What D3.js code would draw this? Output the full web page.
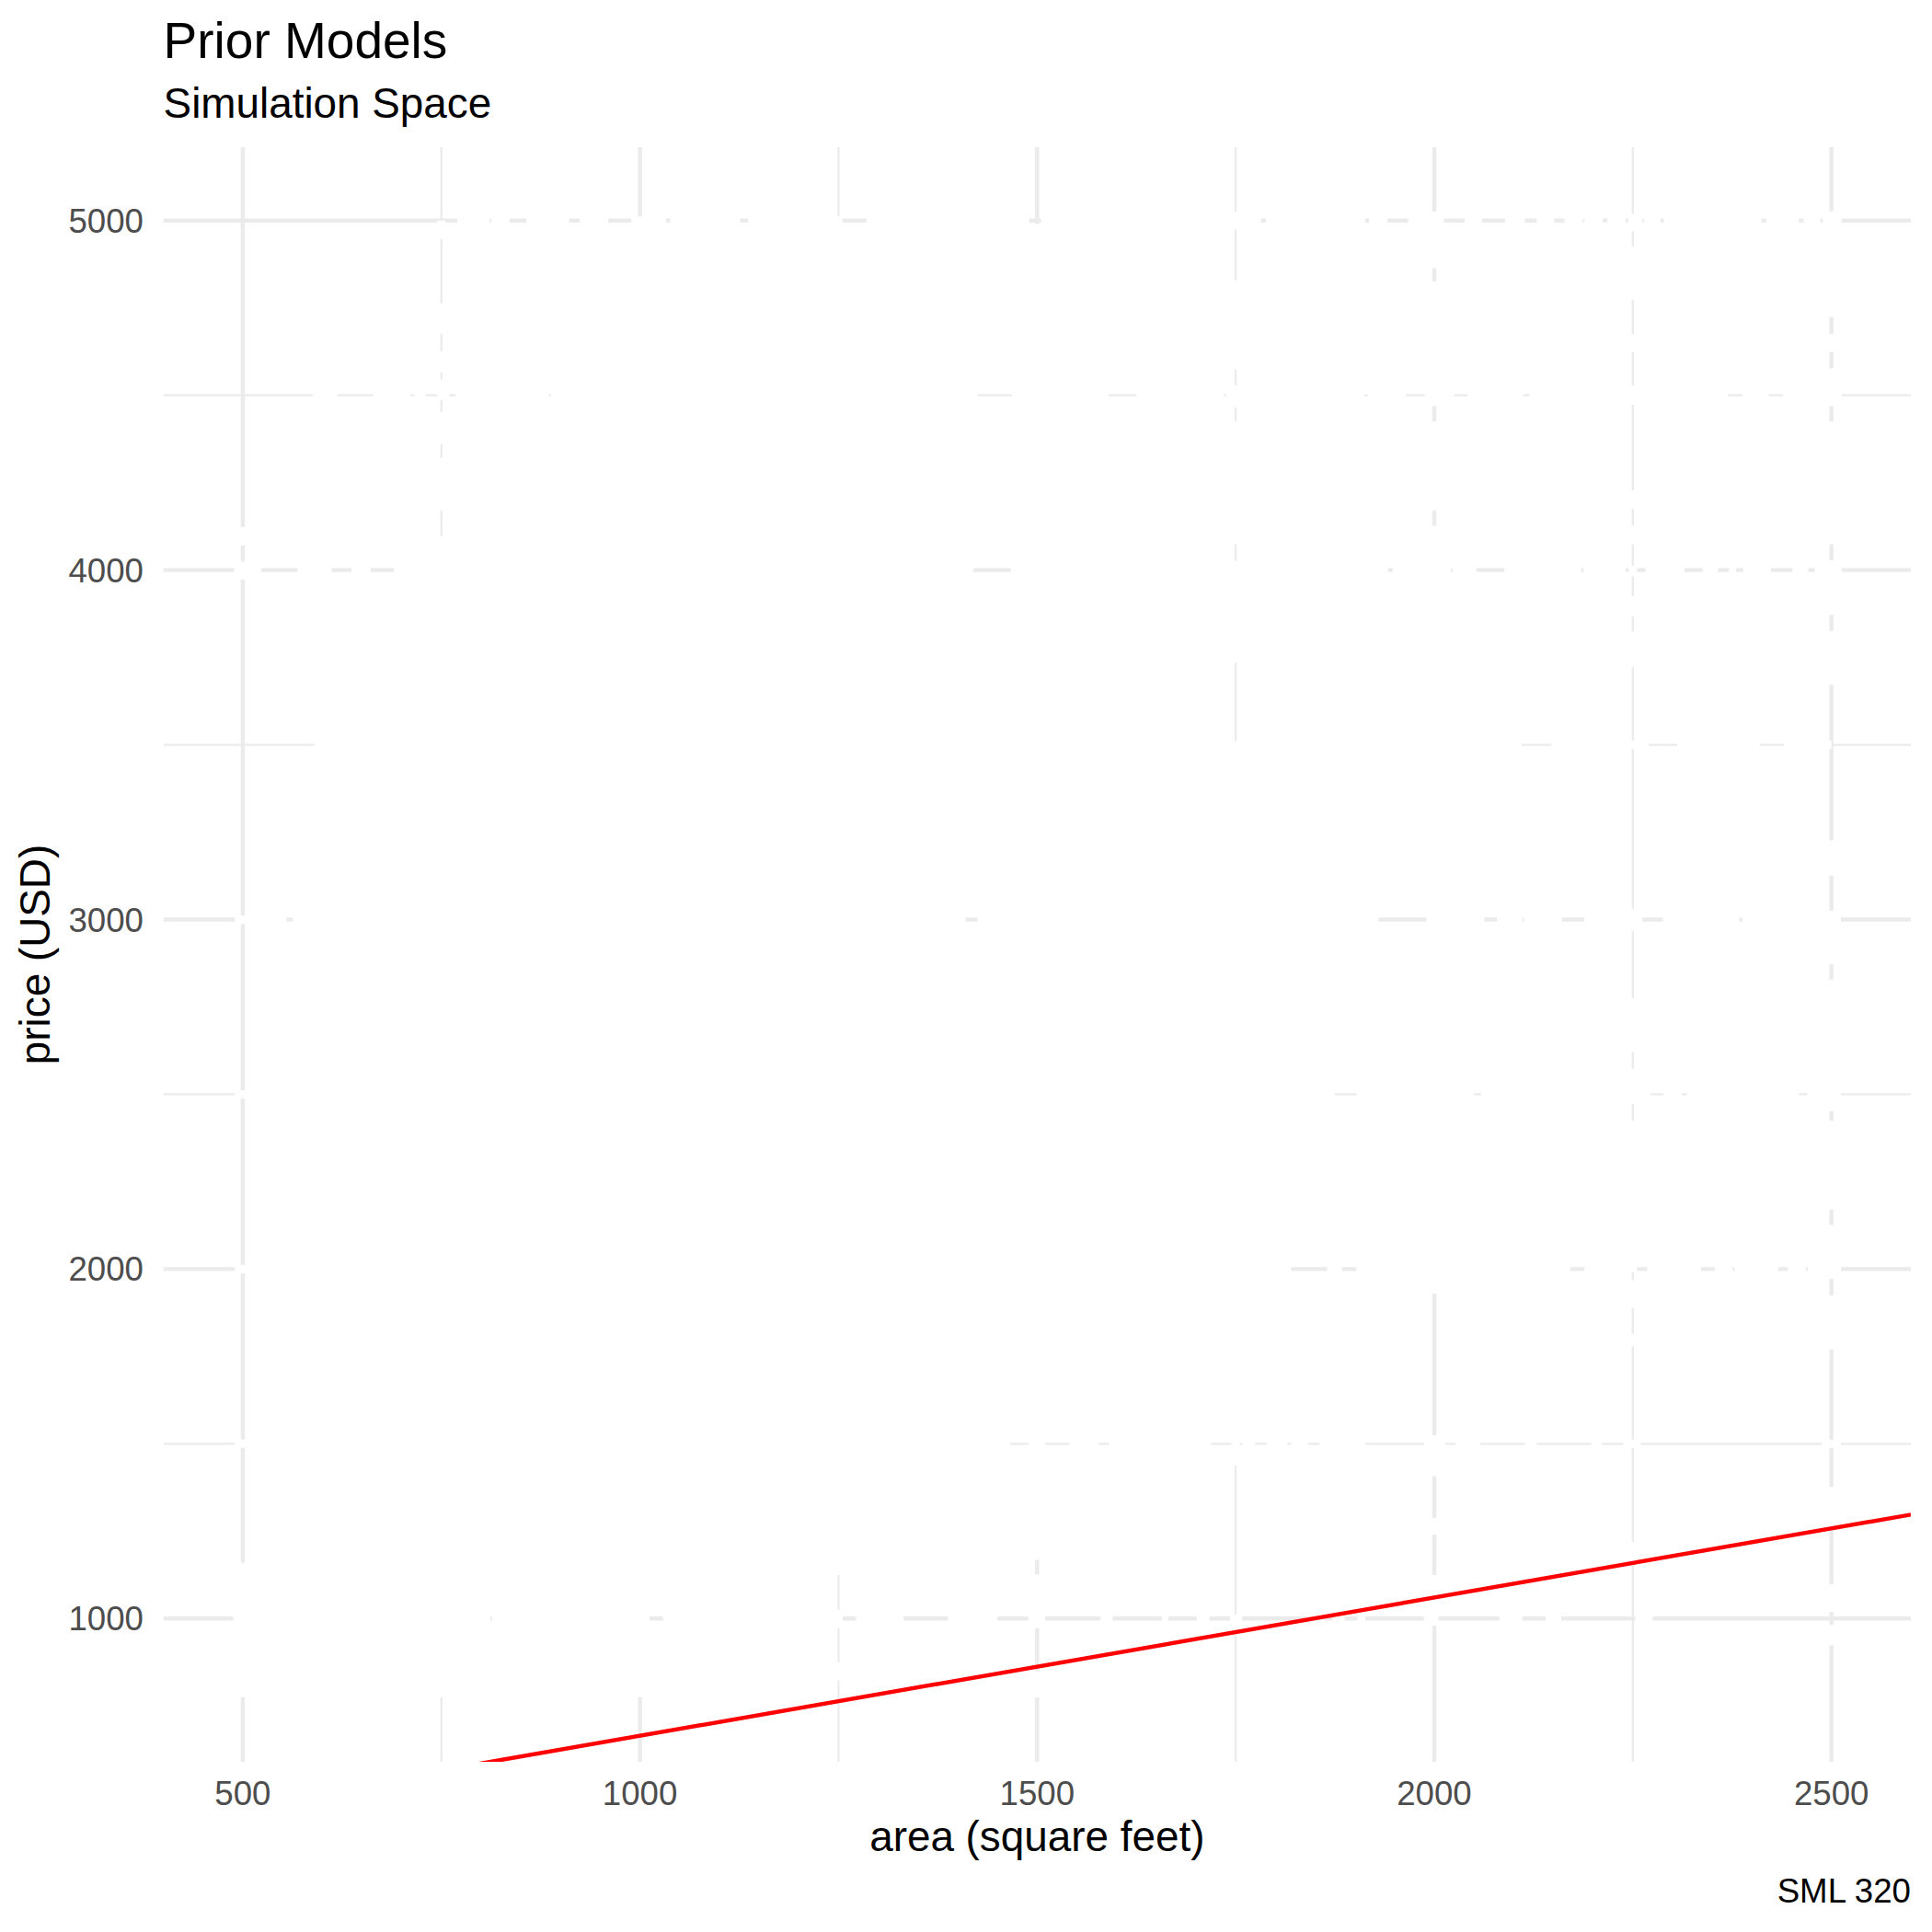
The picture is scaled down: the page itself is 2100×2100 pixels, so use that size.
<!DOCTYPE html>
<html><head><meta charset="utf-8">
<script src="https://cdn.jsdelivr.net/npm/d3@7"></script>
<style>html,body{margin:0;padding:0;background:#fff;}svg text{font-family:"Liberation Sans",Arial,sans-serif;}</style>
</head><body>
<script>
// ---------- data ----------
const xMajorBreaks = [500, 1000, 1500, 2000, 2500];
const xMinorBreaks = [750, 1250, 1750, 2250];
const yMajorBreaks = [1000, 2000, 3000, 4000, 5000];
const yMinorBreaks = [1500, 2500, 3500, 4500];
const xDomain = [400, 2600];
const yDomain = [590, 5210];
// highlighted prior model: price = intercept + slope * area
const modelIntercept = 269;
const modelSlope = 0.3955;
// white (hidden) simulated observations, read from where they cover grid lines
// horizontal runs: [price, areaFrom, areaTo]
const hiddenAlongPrice = [
 [5000,770,811],[5000,813,836],[5000,857,911],[5000,924,960],[5000,989,1033],[5000,1038,1126],[5000,1136,1255],
 [5000,1285,1490],[5000,1505,1782],
 [5000,1788,1913],[5000,1918,1941],[5000,1967,2012],[5000,2038,2060],[5000,2089,2114],[5000,2129,2151],[5000,2164,2187],
 [5000,2189,2212],[5000,2218,2241],[5000,2245,2262],[5000,2264,2285],[5000,2289,2412],[5000,2418,2459],[5000,2465,2486],[5000,2489,2513],
 [4500,588,619],[4500,664,711],[4500,716,730],[4500,748,760],[4500,768,885],[4500,888,1425],[4500,1468,1590],[4500,1625,1735],[4500,1738,1912],
 [4500,1916,1964],[4500,1988,2025],[4500,2042,2112],[4500,2120,2370],[4500,2388,2421],[4500,2439,2513],
 [4000,489,523],[4000,569,612],[4000,637,661],[4000,690,1420],[4000,1467,1942],[4000,1948,2021],[4000,2023,2053],[4000,2088,2185],
 [4000,2188,2241],[4000,2266,2315],[4000,2338,2357],[4000,2371,2380],[4000,2389,2424],[4000,2451,2471],[4000,2479,2513],
 [3500,590,2110],[3500,2147,2270],[3500,2306,2410],[3500,2440,2500],
 [3000,490,555],[3000,563,1410],[3000,1425,1930],
 [3000,1990,2063],[3000,2079,2111],[3000,2113,2161],[3000,2189,2262],[3000,2288,2384],[3000,2388,2512],
 [2500,490,1875],[2500,1902,2050],[2500,2059,2272],[2500,2289,2312],[2500,2318,2459],[2500,2470,2512],
 [2000,490,1820],[2000,1865,1884],[2000,1902,2171],[2000,2189,2248],[2000,2268,2336],[2000,2353,2376],[2000,2378,2433],[2000,2445,2468],[2000,2470,2512],
 [1500,490,1466],[1500,1489,1510],[1500,1541,1577],[1500,1590,1719],[1500,1758,1774],[1500,1789,1815],[1500,1820,1841],
 [1500,1856,1913],[1500,1987,2014],[1500,2027,2058],[1500,2114,2129],[1500,2198,2211],[1500,2238,2260],[1500,2488,2512],
 [1000,488,812],[1000,814,1012],[1000,1029,1249],[1000,1272,1332],[1000,1388,1450],[1000,1489,1510],[1000,1580,1595],
 [1000,1657,1665],[1000,1701,1717],[1000,1743,1758],[1000,1851,1862],[1000,1872,1887],[1000,1903,1913],[1000,1987,2002],
 [1000,2082,2111],[1000,2140,2160],[1000,2253,2275]
];
// vertical runs: [area, priceFrom, priceTo]
const hiddenAlongArea = [
 [500,3973,4024],[500,4070,4123],[500,775,1160],
 [750,4947,5000],[750,4676,4763],[750,4566,4626],[750,4487,4545],[750,4360,4452],[750,4171,4321],[750,775,4097],
 [1000,775,5010],
 [1250,972,1025],[1250,823,875],[1250,1125,4990],
 [1500,972,1126],[1500,774,849],[1500,1168,4990],
 [1750,4974,5026],[1750,4574,4829],[1750,4465,4528],[1750,4074,4425],[1750,3735,4026],[1750,1498,3510],[1750,1437,1498],[1750,954,1007],
 [2000,4864,5026],[2000,4469,4826],[2000,4171,4425],[2000,1930,4127],[2000,1407,1525],[2000,1240,1288],[2000,980,1125],
 [2250,4969,5019],[2250,4774,4926],[2250,4624,4675],[2250,4473,4528],[2250,4175,4228],[2250,4074,4127],[2250,3982,4013],
 [2250,3868,3925],[2250,3723,3824],[2250,2968,3030],[2250,2621,2775],[2250,2472,2573],[2250,1991,2424],[2250,1889,1968],
 [2250,1779,1814],[2250,1164,1219],
 [2500,4724,5026],[2500,4624,4675],[2500,4469,4577],[2500,4074,4425],[2500,3872,4028],[2500,3672,3826],[2500,3126,3227],
 [2500,2872,3025],[2500,2451,2828],[2500,2170,2424],[2500,1972,2126],[2500,1770,1924],[2500,1256,1376],[2500,1019,1098],[2500,923,982]
];
const titleText = "Prior Models";
const subtitleText = "Simulation Space";
const xTitle = "area (square feet)";
const yTitle = "price (USD)";
const captionText = "SML 320";

// ---------- layout ----------
const W = 2100, H = 2100;
const panel = {left: 177.6, right: 2077, top: 160, bottom: 1915};
const gridCol = "#EBEBEB";
const majorW = 4.45, minorW = 2.22;

const svg = d3.select("body").append("svg").attr("width", W).attr("height", H)
  .attr("viewBox", `0 0 ${W} ${H}`);
svg.append("rect").attr("width", W).attr("height", H).attr("fill", "#fff");

const x = d3.scaleLinear().domain(xDomain).range([panel.left, panel.right]);
const y = d3.scaleLinear().domain(yDomain).range([panel.bottom, panel.top]);

svg.append("clipPath").attr("id", "clip").append("rect")
  .attr("x", panel.left).attr("y", panel.top)
  .attr("width", panel.right - panel.left).attr("height", panel.bottom - panel.top);

const g = svg.append("g").attr("clip-path", "url(#clip)");

// minor grid
g.selectAll(".xminor").data(xMinorBreaks).join("line")
  .attr("x1", d => x(d)).attr("x2", d => x(d)).attr("y1", panel.top).attr("y2", panel.bottom)
  .attr("stroke", gridCol).attr("stroke-width", minorW);
g.selectAll(".yminor").data(yMinorBreaks).join("line")
  .attr("y1", d => y(d)).attr("y2", d => y(d)).attr("x1", panel.left).attr("x2", panel.right)
  .attr("stroke", gridCol).attr("stroke-width", minorW);
// major grid
g.selectAll(".xmajor").data(xMajorBreaks).join("line")
  .attr("x1", d => x(d)).attr("x2", d => x(d)).attr("y1", panel.top).attr("y2", panel.bottom)
  .attr("stroke", gridCol).attr("stroke-width", majorW);
g.selectAll(".ymajor").data(yMajorBreaks).join("line")
  .attr("y1", d => y(d)).attr("y2", d => y(d)).attr("x1", panel.left).attr("x2", panel.right)
  .attr("stroke", gridCol).attr("stroke-width", majorW);

// hidden white observations
g.append("g").selectAll("line").data(hiddenAlongPrice).join("line")
  .attr("x1", d => x(d[1])).attr("x2", d => x(d[2])).attr("y1", d => y(d[0])).attr("y2", d => y(d[0]))
  .attr("stroke", "#fff").attr("stroke-width", 9);
g.append("g").selectAll("line").data(hiddenAlongArea).join("line")
  .attr("x1", d => x(d[0])).attr("x2", d => x(d[0])).attr("y1", d => y(d[1])).attr("y2", d => y(d[2]))
  .attr("stroke", "#fff").attr("stroke-width", 9);

// red prior model line
g.append("line")
  .attr("x1", x(xDomain[0])).attr("y1", y(modelIntercept + modelSlope * xDomain[0]))
  .attr("x2", x(xDomain[1])).attr("y2", y(modelIntercept + modelSlope * xDomain[1]))
  .attr("stroke", "#FF0000").attr("stroke-width", 4.45);

// axes labels
const axisCol = "#4D4D4D";
svg.append("g").selectAll("text").data(xMajorBreaks).join("text")
  .attr("x", d => x(d)).attr("y", 1962).attr("text-anchor", "middle")
  .attr("font-size", 36.67).attr("fill", axisCol).text(d => d);
svg.append("g").selectAll("text").data(yMajorBreaks).join("text")
  .attr("x", 156).attr("y", d => y(d) + 13.1).attr("text-anchor", "end")
  .attr("font-size", 36.67).attr("fill", axisCol).text(d => d);

svg.append("text").attr("x", (panel.left + panel.right) / 2).attr("y", 2012)
  .attr("text-anchor", "middle").attr("font-size", 45.83).attr("fill", "#000").text(xTitle);
svg.append("text").attr("transform", `translate(54,${(panel.top + panel.bottom) / 2}) rotate(-90)`)
  .attr("text-anchor", "middle").attr("font-size", 45.83).attr("fill", "#000").text(yTitle);

svg.append("text").attr("x", panel.left).attr("y", 62.7).attr("font-size", 55).attr("fill", "#000").text(titleText);
svg.append("text").attr("x", panel.left).attr("y", 128.3).attr("font-size", 45.83).attr("fill", "#000").text(subtitleText);
svg.append("text").attr("x", panel.right).attr("y", 2068.4).attr("text-anchor", "end")
  .attr("font-size", 36.67).attr("fill", "#000").text(captionText);
</script>
</body></html>
